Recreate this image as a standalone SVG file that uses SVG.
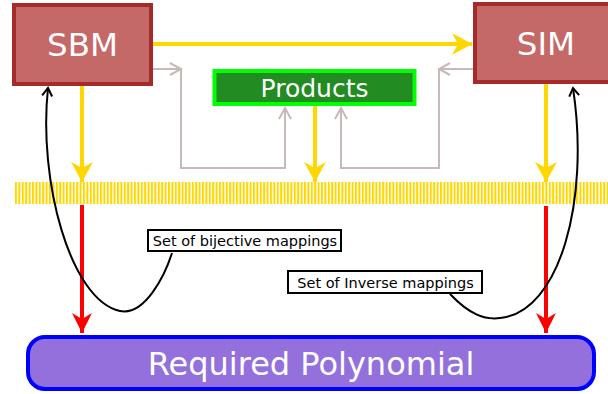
<svg xmlns="http://www.w3.org/2000/svg" width="608" height="394" viewBox="0 0 608 394">
<style>
  .box { fill: #c46868; stroke: #a52a2a; stroke-width: 4; }
  .big { font-family: "DejaVu Sans", sans-serif; fill: #ffffff; text-anchor: middle; }
  .lbl { fill: #ffffff; stroke: #000000; stroke-width: 2; }
  .lbltxt { font-family: "DejaVu Sans", sans-serif; font-size: 14.5px; fill: #000000; text-anchor: middle; }
  .yel { stroke: #ffd700; stroke-width: 4; fill: none; marker-end: url(#ya); }
  .red { stroke: #ff0000; stroke-width: 4; fill: none; marker-end: url(#ra); }
  .gry { stroke: #c8b8b8; stroke-width: 2; fill: none; marker-end: url(#ga); }
  .blk { stroke: #000000; stroke-width: 2; fill: none; marker-end: url(#ba); }
</style>
<defs>
  <marker id="ya" markerUnits="userSpaceOnUse" markerWidth="22" markerHeight="22" refX="20" refY="11" orient="auto" overflow="visible">
    <path d="M0,0 L20,11 L0,22 L6,11 z" fill="#ffd700"/>
  </marker>
  <marker id="ra" markerUnits="userSpaceOnUse" markerWidth="22" markerHeight="22" refX="20" refY="10" orient="auto" overflow="visible">
    <path d="M0,0 L20,10 L0,20 L6,10 z" fill="#ff0000"/>
  </marker>
  <marker id="ga" markerUnits="userSpaceOnUse" markerWidth="12" markerHeight="12" refX="11" refY="6" orient="auto" overflow="visible">
    <path d="M0,0 L11,6 L0,12" fill="none" stroke="#c8b8b8" stroke-width="2"/>
  </marker>
  <marker id="ba" markerUnits="userSpaceOnUse" markerWidth="10" markerHeight="10" refX="8" refY="5" orient="auto" overflow="visible">
    <path d="M0,0 L8,5 L0,10" fill="none" stroke="#000000" stroke-width="2"/>
  </marker>
  <pattern id="hatch" patternUnits="userSpaceOnUse" x="15" y="182" width="3.4" height="22">
    <rect x="0" y="0" width="3.4" height="22" fill="#ffffff"/>
    <rect x="0" y="0" width="2" height="22" fill="#ffd700"/>
  </pattern>
</defs>

<g id="bar">
  <rect x="15" y="182" width="593" height="22" fill="url(#hatch)"/>
</g>

<g id="connectors">
  <path class="yel" d="M153,44 H472"/>
  <path class="yel" d="M82,86 V182"/>
  <path class="yel" d="M315,106 V182"/>
  <path class="yel" d="M546,84 V182"/>
  <path class="red" d="M82,205 V333"/>
  <path class="red" d="M546,206 V333"/>
  <path class="gry" d="M153,69 H181"/>
  <path class="gry" d="M181,69 V168 H285 V108"/>
  <path class="gry" d="M473,69 H439"/>
  <path class="gry" d="M439,69 V168 H341 V108"/>
  <path class="blk" d="M172,253 C165,275 145,316 120,311 C70,300 38,180 48,88"/>
  <path class="blk" d="M450,294 C470,315 485,320 500,318 C560,312 590,200 573,88"/>
</g>

<g id="sbm">
  <rect class="box" x="14" y="5" width="137" height="79"/>
  <text class="big" x="82.5" y="56" font-size="32.5">SBM</text>
</g>

<g id="sim">
  <rect class="box" x="475" y="4" width="137" height="78"/>
  <text class="big" x="546" y="55" font-size="32.5">SIM</text>
</g>

<g id="products">
  <rect x="214.5" y="71" width="200" height="33" fill="#228b22" stroke="#00ff00" stroke-width="4"/>
  <text class="big" x="314.5" y="96.5" font-size="25">Products</text>
</g>

<g id="label-bijective">
  <rect class="lbl" x="148" y="230" width="193" height="21"/>
  <text class="lbltxt" x="245" y="245.5">Set of bijective mappings</text>
</g>

<g id="label-inverse">
  <rect class="lbl" x="288" y="271" width="194" height="22"/>
  <text class="lbltxt" x="385.5" y="287.5">Set of Inverse mappings</text>
</g>

<g id="required">
  <rect x="28" y="337" width="566" height="52" rx="17" ry="17" fill="#9370db" stroke="#0000ff" stroke-width="4"/>
  <text class="big" x="311" y="375" font-size="32">Required Polynomial</text>
</g>
</svg>
